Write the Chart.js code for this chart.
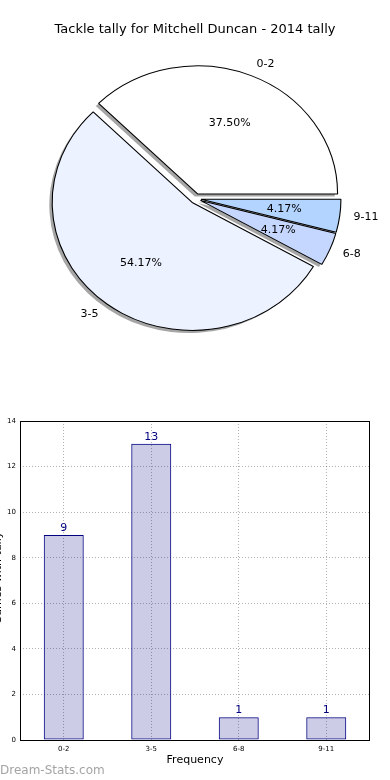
<!DOCTYPE html>
<html>
<head>
<meta charset="utf-8">
<script src="https://cdn.jsdelivr.net/npm/chart.js@4.4.0/dist/chart.umd.min.js"></script>
<style>
    html, body { margin: 0; padding: 0; background: #fff; }
    #pieBox { position: absolute; left: 0; top: 0; width: 390px; height: 380px; }
    #barBox { position: absolute; left: 0; top: 380px; width: 390px; height: 400px; }
</style>
</head>
<body>
<div id="pieBox"><canvas id="pieChart" width="390" height="380"></canvas></div>
<div id="barBox"><canvas id="barChart" width="390" height="400"></canvas></div>
<script>
// Data
const categories = ['0-2', '3-5', '6-8', '9-11'];
const games = [9, 13, 1, 1];
const pieColors = ['#ffffff', '#ecf2ff', '#c6d7ff', '#b3d4ff'];
const yMax = 14;
const yStep = 2;

const FONT = "'DejaVu Sans', sans-serif";

// pie is drawn clockwise from east, so reverse the categories
const pieOrder = [3, 2, 1, 0];
const total = games.reduce((a, b) => a + b, 0);

// matplotlib style ellipse, explode and shadow
const SX = 140 / 128;
const EXPLODE = 5;
const SHADOW = 2.6;

const ellipsePie = {
    id: 'ellipsePie',
    beforeDatasetDraw(chart, args) {
        const ctx = chart.ctx;
        const arcs = args.meta.data;
        const cx = arcs[0].x;
        ctx.save();
        ctx.translate(cx, 0);
        ctx.scale(SX, 1);
        ctx.translate(-cx, 0);

        // shadows under every wedge
        arcs.forEach(arc => {
            const mid = (arc.startAngle + arc.endAngle) / 2;
            const ox = Math.cos(mid) * EXPLODE - SHADOW;
            const oy = Math.sin(mid) * EXPLODE + SHADOW;
            ctx.beginPath();
            ctx.moveTo(arc.x + ox, arc.y + oy);
            ctx.arc(arc.x + ox, arc.y + oy, arc.outerRadius, arc.startAngle, arc.endAngle);
            ctx.closePath();
            ctx.fillStyle = 'rgba(77,77,77,0.5)';
            ctx.fill();
        });

        // wedges, each pushed out along its middle angle
        arcs.forEach(arc => {
            const mid = (arc.startAngle + arc.endAngle) / 2;
            ctx.save();
            ctx.translate(Math.cos(mid) * EXPLODE, Math.sin(mid) * EXPLODE);
            arc.draw(ctx);
            ctx.restore();
        });
        ctx.restore();
        return false;
    },
    afterDraw(chart) {
        const ctx = chart.ctx;
        const arcs = chart.getDatasetMeta(0).data;
        const cx = arcs[0].x;
        ctx.save();

        // title
        ctx.fillStyle = '#000';
        ctx.font = '13px ' + FONT;
        ctx.textAlign = 'center';
        ctx.textBaseline = 'middle';
        ctx.fillText('Tackle tally for Mitchell Duncan - 2014 tally', 195, 30);

        ctx.font = '11px ' + FONT;
        arcs.forEach((arc, i) => {
            const idx = pieOrder[i];
            const mid = (arc.startAngle + arc.endAngle) / 2;
            const c = Math.cos(mid), s = Math.sin(mid);
            const wx = arc.x + c * EXPLODE;
            const wy = arc.y + s * EXPLODE;
            const r = arc.outerRadius;

            // category label
            const lx = cx + SX * (wx + 1.1 * r * c - cx);
            const ly = wy + 1.1 * r * s;
            ctx.textAlign = c > 0 ? 'left' : 'right';
            ctx.fillText(categories[idx], lx, ly);

            // percentage
            const px = cx + SX * (wx + 0.6 * r * c - cx);
            const py = wy + 0.6 * r * s;
            ctx.textAlign = 'center';
            ctx.fillText((games[idx] / total * 100).toFixed(2) + '%', px, py);
        });
        ctx.restore();
    }
};

new Chart(document.getElementById('pieChart'), {
    type: 'pie',
    data: {
        labels: pieOrder.map(i => categories[i]),
        datasets: [{
            data: pieOrder.map(i => games[i]),
            backgroundColor: pieOrder.map(i => pieColors[i]),
            borderColor: '#000',
            borderWidth: 1,
            clip: false
        }]
    },
    options: {
        responsive: false,
        animation: false,
        rotation: 90,
        layout: { padding: { left: 67, right: 66, top: 70, bottom: 53 } },
        plugins: {
            legend: { display: false },
            tooltip: { enabled: false }
        }
    },
    plugins: [ellipsePie]
});

// Bar chart extras: frame, value labels, axis titles, watermark
const barExtras = {
    id: 'barExtras',
    afterDraw(chart) {
        const ctx = chart.ctx;
        const a = chart.chartArea;
        ctx.save();

        ctx.strokeStyle = '#000';
        ctx.lineWidth = 1;
        ctx.strokeRect(Math.round(a.left) + 0.5, Math.round(a.top) + 0.5,
            Math.round(a.right - a.left) - 1, Math.round(a.bottom - a.top));

        // values over bars
        ctx.fillStyle = '#000080';
        ctx.font = '11px ' + FONT;
        ctx.textAlign = 'center';
        ctx.textBaseline = 'alphabetic';
        chart.getDatasetMeta(0).data.forEach((bar, i) => {
            ctx.fillText(String(games[i]), bar.x, bar.y - 4);
        });

        // x title
        ctx.fillStyle = '#000';
        ctx.font = '11px ' + FONT;
        ctx.textBaseline = 'middle';
        ctx.fillText('Frequency', (a.left + a.right) / 2, 380);

        // y title, mostly cut off on the left edge
        ctx.save();
        ctx.translate(1, 198);
        ctx.rotate(-Math.PI / 2);
        ctx.textBaseline = 'alphabetic';
        ctx.fillText('Games with tally', 0, 0);
        ctx.restore();

        // watermark
        ctx.fillStyle = '#a4a4a4';
        ctx.font = '12px ' + FONT;
        ctx.textAlign = 'left';
        ctx.textBaseline = 'middle';
        ctx.fillText('Dream-Stats.com', 0, 391);

        ctx.restore();
    }
};

const gridStyle = { color: 'rgba(0,0,0,0.3)', drawTicks: false };

new Chart(document.getElementById('barChart'), {
    type: 'bar',
    data: {
        labels: categories,
        datasets: [{
            data: games,
            backgroundColor: 'rgba(0,0,128,0.2)',
            borderColor: '#000080',
            borderWidth: 1,
            borderSkipped: false,
            barPercentage: 0.457,
            categoryPercentage: 1
        }]
    },
    options: {
        responsive: false,
        animation: false,
        layout: { padding: { top: 41, right: 20, left: 0, bottom: 0 } },
        plugins: {
            legend: { display: false },
            tooltip: { enabled: false }
        },
        scales: {
            x: {
                grid: { ...gridStyle, offset: false },
                border: { display: false, dash: [1, 2] },
                ticks: { font: { size: 7, family: FONT }, color: '#000', padding: 5, maxRotation: 0 },
                afterFit(s) { s.height = 40; }
            },
            y: {
                min: 0,
                max: yMax,
                grid: gridStyle,
                border: { display: false, dash: [1, 2] },
                ticks: { stepSize: yStep, font: { size: 7, family: FONT }, color: '#000', padding: 4 },
                afterFit(s) { s.width = 20; }
            }
        }
    },
    plugins: [barExtras]
});
</script>
</body>
</html>
